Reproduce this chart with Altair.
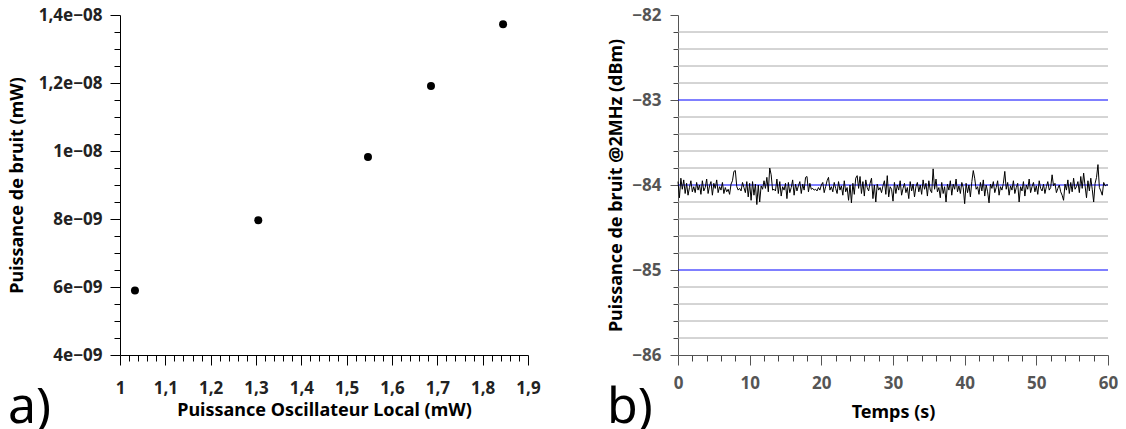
import altair as alt
import pandas as pd

FONT = "Noto Sans"

# ---------------- panel a) data ----------------
lo_power = [1.033, 1.305, 1.547, 1.686, 1.845]
noise_mw = [5.90e-9, 7.96e-9, 9.82e-9, 1.191e-8, 1.373e-8]

# ---------------- panel b) data ----------------
noise_dbm = [
    -83.96, -84.15, -83.92, -84.05, -83.94, -84.10, -83.98, -84.12, -84.03, -83.95,
    -84.08, -84.02, -84.09, -83.97, -84.06, -84.00, -84.11, -83.95, -84.07, -84.03,
    -83.93, -84.10, -84.01, -83.96, -84.12, -83.98, -84.04, -83.94, -84.09, -84.02,
    -84.06, -83.97, -84.10, -84.03, -84.08, -84.05, -84.11, -83.99, -83.95, -83.84,
    -83.83, -84.02, -84.06, -84.04, -84.07, -83.97, -84.03, -84.09, -83.96, -84.14,
    -83.98, -84.18, -83.96, -84.12, -83.99, -84.23, -84.00, -84.20, -84.01, -84.05,
    -83.95, -84.04, -83.91, -84.08, -83.80, -83.88, -84.06, -84.05, -84.07, -83.93,
    -84.10, -83.96, -84.13, -84.02, -84.06, -83.98, -84.16, -83.97, -84.09, -84.03,
    -83.94, -84.12, -83.99, -84.07, -84.01, -83.96, -84.10, -83.99, -84.06, -83.91,
    -83.90, -84.08, -83.98, -84.05, -84.04, -84.06, -84.05, -84.07, -84.03, -84.06,
    -84.00, -83.97, -84.09, -84.02, -83.95, -83.91, -84.06, -84.02, -84.08, -83.97,
    -84.04, -84.10, -83.96, -84.06, -84.01, -84.12, -83.95, -84.08, -84.03, -84.18,
    -84.00, -84.21, -83.98, -84.11, -83.92, -83.89, -84.04, -83.90, -84.10, -83.96,
    -84.13, -83.94, -84.03, -84.07, -83.98, -83.92, -84.16, -84.00, -84.20, -83.99,
    -84.06, -84.03, -84.09, -84.01, -83.95, -84.11, -83.89, -84.14, -84.02, -84.05,
    -84.19, -83.97, -84.10, -84.00, -84.06, -83.95, -84.12, -84.04, -83.98, -84.09,
    -84.03, -84.16, -83.96, -84.07, -83.99, -84.14, -84.02, -83.97, -84.08, -84.00,
    -84.11, -83.94, -84.05, -83.98, -84.13, -83.95, -84.06, -84.09, -83.81, -84.05,
    -83.93, -84.08, -84.03, -84.15, -83.97, -84.10, -84.02, -84.20, -83.99, -84.06,
    -83.95, -84.12, -83.99, -84.05, -83.93, -84.08, -84.01, -84.10, -83.97, -84.03,
    -84.22, -83.98, -84.09, -84.00, -84.14, -83.96, -83.83, -83.92, -84.05, -84.02,
    -84.11, -83.97, -84.07, -83.94, -84.13, -84.00, -84.08, -84.21, -83.99, -84.04,
    -83.96, -84.09, -84.03, -83.95, -84.12, -84.02, -84.06, -83.98, -83.84, -84.05,
    -83.97, -84.12, -84.01, -84.06, -83.95, -84.10, -84.03, -83.98, -84.20, -84.02,
    -84.07, -83.96, -84.13, -84.00, -84.05, -83.93, -84.09, -84.02, -83.97, -84.08,
    -84.01, -84.11, -83.95, -84.04, -84.07, -83.99, -84.10, -84.02, -83.96, -84.06,
    -84.03, -83.88, -84.01, -83.98, -84.09, -84.04, -84.00, -84.08, -84.12, -84.18,
    -83.99, -84.06, -83.94, -84.10, -83.97, -84.08, -83.92, -84.05, -84.02, -83.96,
    -84.09, -83.90, -84.04, -83.86, -84.01, -84.15, -83.95, -84.07, -83.92, -84.05,
    -84.20, -83.98, -83.91, -83.76, -84.03, -84.07, -84.12, -83.97, -84.01, -84.00,
    -84.00,
]
sample_step_s = 0.2
time_s = [round(i * sample_step_s, 1) for i in range(len(noise_dbm))]

gray_levels = [-85.8, -85.6, -85.4, -85.2, -84.8, -84.6, -84.4, -84.2,
               -83.8, -83.6, -83.4, -83.2, -82.8, -82.6, -82.4, -82.2]
blue_levels = [-85.0, -84.0, -83.0]

# tick values
xa_major = [1.0, 1.1, 1.2, 1.3, 1.4, 1.5, 1.6, 1.7, 1.8, 1.9]
xa_minor = [round(1.0 + 0.02 * i, 2) for i in range(46) if i % 5 != 0]
ya_major = [4e-9, 6e-9, 8e-9, 1e-8, 1.2e-8, 1.4e-8]
ya_minor = [v * 1e-9 for v in [4.5, 5, 5.5, 6.5, 7, 7.5, 8.5, 9, 9.5, 10.5, 11, 11.5, 12.5, 13, 13.5]]
xb_major = [0, 10, 20, 30, 40, 50, 60]
xb_minor = [v for v in range(0, 61, 2) if v % 10 != 0]
yb_major = [-86, -85, -84, -83, -82]
yb_minor = gray_levels

W_A, H_A = 408, 340
W_B, H_B = 430, 340
LABEL_SIZE = 17
TITLE_SIZE = 18


def major_axis(orient, values, title, color, label_color, label_expr=None, title_pad=8, label_pad=6, tick=10):
    kw = dict(
        orient=orient, values=values, title=title, grid=False,
        domainColor=color, tickColor=color, tickSize=tick,
        labelColor=label_color, labelFont=FONT, labelFontSize=LABEL_SIZE, labelFontWeight="bold",
        labelPadding=label_pad, labelFlush=False, labelOverlap=False,
        titleFont=FONT, titleFontSize=TITLE_SIZE, titleFontWeight="bold", titleColor="black",
        titlePadding=title_pad,
    )
    if label_expr:
        kw["labelExpr"] = label_expr
    return alt.Axis(**kw)


def minor_axis(orient, values, color, tick=6):
    return alt.Axis(orient=orient, values=values, title=None, labels=False, domain=False,
                    grid=False, tickColor=color, tickSize=tick)


# ---------------- panel a ----------------
df_a = pd.DataFrame({"lo": lo_power, "p": noise_mw})
sx_a = alt.Scale(domain=[1, 1.9], nice=False, zero=False)
sy_a = alt.Scale(domain=[4e-9, 1.4e-8], nice=False, zero=False)

x_expr_a = "replace(format(datum.value, '.1~f'), '.', ',')"
y_expr_a = ("datum.value < 9.99e-9 ? format(datum.value*1e9, '.2~g') + 'e\u221209' : "
            "replace(format(datum.value*1e8, '.2~g'), '.', ',') + 'e\u221208'")

minor_a = alt.Chart(df_a).mark_point(opacity=0).encode(
    x=alt.X("lo:Q", scale=sx_a, axis=minor_axis("bottom", xa_minor, "black")),
    y=alt.Y("p:Q", scale=sy_a, axis=minor_axis("left", ya_minor, "black")),
)
pts_a = alt.Chart(df_a).mark_circle(size=64, color="black", opacity=1).encode(
    x=alt.X("lo:Q", scale=sx_a,
            axis=major_axis("bottom", xa_major, "Puissance Oscillateur Local (mW)", "black", "#222",
                            x_expr_a, title_pad=5, label_pad=15)),
    y=alt.Y("p:Q", scale=sy_a,
            axis=major_axis("left", ya_major, "Puissance de bruit (mW)", "black", "#222",
                            y_expr_a, title_pad=12, label_pad=8)),
)
lab_a = alt.Chart(pd.DataFrame({"t": ["a)"]})).mark_text(
    font=FONT, fontSize=50, fontWeight="normal", align="left", baseline="alphabetic", color="black"
).encode(text="t:N", x=alt.value(-112), y=alt.value(408))

panel_a = alt.layer(minor_a, pts_a, lab_a).resolve_axis(x="independent", y="independent").properties(
    width=W_A, height=H_A)

# ---------------- panel b ----------------
df_b = pd.DataFrame({"t": time_s, "v": noise_dbm})
sx_b = alt.Scale(domain=[0, 60], nice=False, zero=False)
sy_b = alt.Scale(domain=[-86, -82], nice=False, zero=False)

grid_gray = alt.Chart(pd.DataFrame({"g": gray_levels})).mark_rule(color="#aaaaaa", strokeWidth=1).encode(
    y=alt.Y("g:Q", scale=sy_b, axis=None))
grid_blue = alt.Chart(pd.DataFrame({"g": blue_levels})).mark_rule(color="#0000ff", strokeWidth=1).encode(
    y=alt.Y("g:Q", scale=sy_b, axis=None))
minor_b = alt.Chart(df_b).mark_point(opacity=0).encode(
    x=alt.X("t:Q", scale=sx_b, axis=minor_axis("bottom", xb_minor, "#444")),
    y=alt.Y("v:Q", scale=sy_b, axis=minor_axis("left", yb_minor, "#444", tick=5)),
)
line_b = alt.Chart(df_b).mark_line(color="black", strokeWidth=1).encode(
    x=alt.X("t:Q", scale=sx_b,
            axis=major_axis("bottom", xb_major, "Temps (s)", "#555", "#555", title_pad=12, label_pad=10)),
    y=alt.Y("v:Q", scale=sy_b,
            axis=major_axis("left", yb_major, "Puissance de bruit @2MHz (dBm)", "#555", "#555",
                            title_pad=6, label_pad=9, tick=8)),
)
lab_b = alt.Chart(pd.DataFrame({"t": ["b)"]})).mark_text(
    font=FONT, fontSize=50, fontWeight="normal", align="left", baseline="alphabetic", color="black"
).encode(text="t:N", x=alt.value(-71), y=alt.value(408))

panel_b = alt.layer(grid_gray, grid_blue, minor_b, line_b, lab_b).resolve_axis(
    x="independent", y="independent").properties(width=W_B, height=H_B)

chart = alt.hconcat(panel_a, panel_b, spacing=66).configure_view(stroke=None).properties(
    padding={"top": -2, "left": 0, "right": 0, "bottom": 0})

chart.save("out.html", embed_options={"renderer": "svg", "actions": False})
